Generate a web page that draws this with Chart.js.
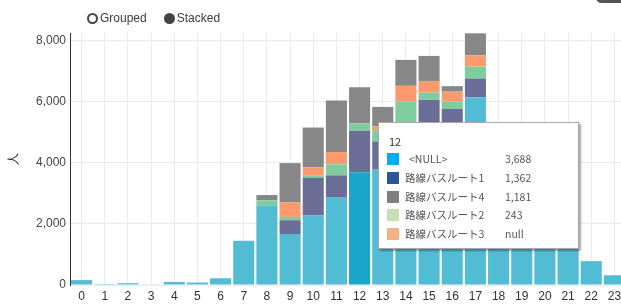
<!DOCTYPE html>
<html>
<head>
<meta charset="utf-8">
<script src="https://cdn.jsdelivr.net/npm/chart.js@4/dist/chart.umd.min.js"></script>
<style>
  html, body { margin: 0; padding: 0; background: #fff; }
  body { width: 621px; height: 304px; overflow: hidden; position: relative; font-family: "Liberation Sans", Arial, sans-serif; }
  #wrap { position: absolute; left: 0; top: 0; width: 626px; height: 304px; }
  .radios { position: absolute; top: 11px; left: 87px; font-size: 12px; color: #3a3a48; display: flex; gap: 17px; }
  .radios span { display: flex; align-items: center; }
  .dot { display: inline-block; width: 7px; height: 7px; border-radius: 50%; border: 2px solid #444; margin-right: 2px; }
  .dot.on { background: #444; }
  #corner { position: absolute; left: 596px; top: -8px; width: 40px; height: 11px; border-radius: 6px; background: #555; }
  #tip { position: absolute; display: none; background: #fff; border: 1px solid #a8a8a8;
         box-shadow: 2px 2px 2px rgba(0,0,0,0.35); width: 199px; height: 125px; box-sizing: content-box;
         font-family: "Noto Sans CJK JP", "Noto Sans", sans-serif; color: #555; }
  #tip .ttl { position: absolute; left: 10px; top: 10px; font-size: 11px; color: #333; }
  #tip .row { position: absolute; left: 8px; height: 13px; width: 185px; font-size: 10.5px; line-height: 13px; }
  #tip .sw { position: absolute; left: 0; top: 0; width: 12px; height: 12px; }
  #tip .nm { position: absolute; left: 18px; top: -1px; white-space: nowrap; }
  #tip .vl { position: absolute; left: 118px; top: -1px; white-space: nowrap; }
</style>
</head>
<body>
<div id="wrap"><canvas id="busChart" width="626" height="304"></canvas></div>
<div class="radios"><span><i class="dot"></i>Grouped</span><span><i class="dot on"></i>Stacked</span></div>
<div id="corner"></div>
<div id="tip"></div>
<script>
// 時間帯 (0〜23時)
const hours = ['0','1','2','3','4','5','6','7','8','9','10','11','12','13','14','15','16','17','18','19','20','21','22','23'];

const seriesNames = ['<NULL>', '路線バスルート1', '路線バスルート2', '路線バスルート3', '路線バスルート4'];

// 人数
const nullRoute = [160, 30, 60, 20, 100, 80, 220, 1450, 2600, 1670, 2280, 2880, 3688, 3800, 4100, 4200, 4300, 6150, 3600, 2900, 2300, 1700, 780, 320];
const route1    = [null, null, null, null, null, null, null, null, null, 450, 1230, 710, 1362, 900, 1000, 1860, 1460, 610, 800, 500, 300, 150, null, null];
const route2    = [null, null, null, null, null, null, null, null, 170, 110, 65, 360, 243, 370, 900, 240, 240, 390, 150, 100, 80, 50, null, null];
const route3    = [null, null, null, null, null, null, null, null, null, 470, 280, 400, null, 130, 520, 380, 330, 370, 200, 150, 100, 60, null, null];
const route4    = [null, null, null, null, null, null, null, null, 175, 1290, 1300, 1690, 1181, 630, 850, 820, 180, 720, 300, 250, 200, 100, null, null];

const yTicks = [0, 2000, 4000, 6000, 8000];

const barColors = ['#52bcd4', '#6a6e97', '#7fcc9f', '#fc9a6e', '#878787'];
const tipColors = ['#00aeef', '#2e5597', '#c6e0b4', '#f4b183', '#7f7f7f'];
const tipOrder = [0, 1, 4, 2, 3];

function fmt(v) {
    return v === null || v === undefined ? 'null' : v.toLocaleString('en-US');
}

function externalTip(context) {
    const tt = context.tooltip;
    const el = document.getElementById('tip');
    if (tt.opacity === 0 || !tt.dataPoints || !tt.dataPoints.length) {
        el.style.display = 'none';
        return;
    }
    let html = `<div class="ttl">${tt.dataPoints[0].label}</div>`;
    tt.dataPoints.forEach((p, i) => {
        const name = seriesNames[p.datasetIndex].replace('<', '&lt;').replace('>', '&gt;');
        const pad = p.datasetIndex === 0 ? 'padding-left:4px;' : '';
        html += `<div class="row" style="top:${30 + i * 18.8}px">
            <span class="sw" style="background:${tipColors[p.datasetIndex]}"></span>
            <span class="nm" style="${pad}">${name}</span>
            <span class="vl">${fmt(p.raw)}</span></div>`;
    });
    el.innerHTML = html;
    el.style.left = Math.round(tt.dataPoints[0].element.x + 18) + 'px';
    el.style.top = '122px';
    el.style.display = 'block';
}

const dataLists = [nullRoute, route1, route2, route3, route4];

const chart = new Chart(document.getElementById('busChart'), {
    type: 'bar',
    data: {
        labels: hours,
        datasets: dataLists.map((d, i) => ({
            label: seriesNames[i],
            data: d,
            backgroundColor: barColors[i],
            hoverBackgroundColor: i === 0 ? '#1aa6c8' : barColors[i],
            borderWidth: 0,
            barPercentage: 0.91,
            categoryPercentage: 1
        }))
    },
    options: {
        responsive: false,
        animation: false,
        events: [],
        layout: { padding: { top: 33, right: 0, left: 0, bottom: 0 } },
        plugins: {
            legend: { display: false },
            tooltip: {
                enabled: false,
                external: externalTip,
                itemSort: (a, b) => tipOrder.indexOf(a.datasetIndex) - tipOrder.indexOf(b.datasetIndex)
            }
        },
        scales: {
            x: {
                stacked: true,
                grid: { offset: false, color: '#ebebeb', drawTicks: false },
                border: { display: false },
                ticks: { color: '#333', padding: 4, font: { size: 12, family: '"Liberation Sans", Arial, sans-serif' }, maxRotation: 0, autoSkip: false },
                afterFit: s => { s.height = 19; }
            },
            y: {
                stacked: true,
                min: 0,
                max: 8250,
                afterBuildTicks: s => { s.ticks = yTicks.map(v => ({ value: v })); },
                grid: { color: '#ebebeb', drawTicks: false },
                border: { display: true, color: '#333', width: 1 },
                ticks: {
                    color: '#444', padding: 4,
                    font: { size: 12, family: '"Liberation Sans", Arial, sans-serif' },
                    callback: v => v.toLocaleString('en-US')
                },
                title: { display: true, text: '人', color: '#333', font: { size: 12 }, padding: { top: 6, bottom: 0 } },
                afterFit: s => { s.width = 70; }
            }
        }
    }
});

// 12時のバーにホバーした状態
chart.setActiveElements([{ datasetIndex: 0, index: 12 }]);
chart.update();
chart.tooltip.setActiveElements(dataLists.map((_, i) => ({ datasetIndex: i, index: 12 })), { x: 380, y: 122 });
</script>
</body>
</html>
